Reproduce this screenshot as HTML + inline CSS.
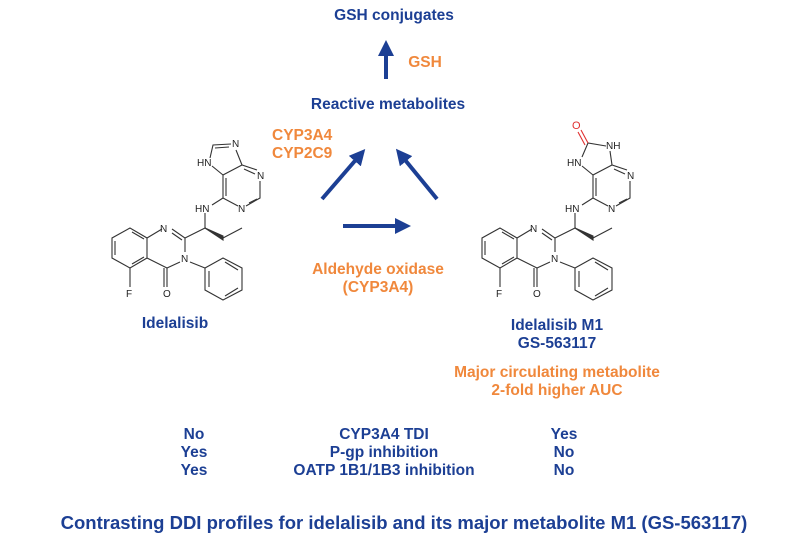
<!DOCTYPE html>
<html><head><meta charset="utf-8"><style>
html,body{margin:0;padding:0;background:#fff;}
svg{display:block;}
.b{fill:#1c3f94;font-family:"Liberation Sans",sans-serif;font-weight:bold;font-size:15.5px;}
.o{fill:#f0883c;font-family:"Liberation Sans",sans-serif;font-weight:bold;font-size:15.5px;}
</style></head><body>
<svg width="800" height="549" viewBox="0 0 800 549" xmlns="http://www.w3.org/2000/svg">
<defs>
<marker id="ah" markerWidth="4" markerHeight="4" refX="2" refY="2" orient="auto" markerUnits="strokeWidth">
<path d="M0,0 L4,2 L0,4 z" fill="#1c3f94"/></marker>
<g id="core" stroke="#333" stroke-width="1.1" fill="none">
<path d="M130,228 L112,238 L112,258 L130,268 L147,258 L147,238 Z"/>
<path d="M115,241 L115,255 M132,232 L144,239 M132,264 L144,257"/>
<path d="M147,238 L162,229 M172,229 L185,238 L185,252 M180,262 L167,268 L147,258"/>
<path d="M172,233 L182,240"/>
<path d="M167,268 L167,287 M164,268 L164,287"/>
<path d="M130,268 L130,287"/>
<path d="M190,262 L205,268"/>
<path d="M205,268 L223,258 L242,268 L242,290 L223,300 L205,290 Z"/>
<path d="M209,271 L209,287 M225,262 L238,270 M225,296 L238,288"/>
<path d="M185,238 L205,228 L205,213"/>
<path d="M205,228 L223,236 L223,240 Z" fill="#333"/>
<path d="M223,238 L242,228"/>
<path d="M212,205 L223,198"/>
<path d="M223,198 L238,206 M246,206 L260,198 L260,181 M257,170 L242,165 L223,175 L223,198"/>
<path d="M226,196 L226,178 M244,169 L255,174 M249,203 L257,199"/>
</g>
<g id="t1">
<text x="160" y="232" font-size="10" fill="#222" font-family="Liberation Sans,sans-serif">N</text>
<text x="181" y="262" font-size="10" fill="#222" font-family="Liberation Sans,sans-serif">N</text>
<text x="163" y="297" font-size="10" fill="#222" font-family="Liberation Sans,sans-serif">O</text>
<text x="126" y="297" font-size="10" fill="#222" font-family="Liberation Sans,sans-serif">F</text>
<text x="195" y="212" font-size="10" fill="#222" font-family="Liberation Sans,sans-serif">HN</text>
<text x="238" y="212" font-size="10" fill="#222" font-family="Liberation Sans,sans-serif">N</text>
<text x="257" y="179" font-size="10" fill="#222" font-family="Liberation Sans,sans-serif">N</text>
</g>
</defs>

<use href="#core"/>
<use href="#t1"/>
<g stroke="#333" stroke-width="1.1" fill="none">
<path d="M223,175 L212,166 M210,158 L213,145 L231,144 M242,165 L236,150 M215,148 L229,147"/>
</g>
<text x="197" y="166" font-size="10" fill="#222" font-family="Liberation Sans,sans-serif">HN</text>
<text x="232" y="147" font-size="10" fill="#222" font-family="Liberation Sans,sans-serif">N</text>

<g transform="translate(370,0)">
<use href="#core"/>
<use href="#t1"/>
<g stroke="#333" stroke-width="1.1" fill="none">
<path d="M223,175 L212,166 M212,157 L218,143 L236,146 M242,165 L240,151"/>
</g>
<path d="M218,143 L211,130 M215,145 L208,132" stroke="#e03030" stroke-width="1.1" fill="none"/>
<text x="197" y="166" font-size="10" fill="#222" font-family="Liberation Sans,sans-serif">HN</text>
<text x="236" y="149" font-size="10" fill="#222" font-family="Liberation Sans,sans-serif">NH</text>
<text x="202" y="129" font-size="11" fill="#e03030" font-family="Liberation Sans,sans-serif">O</text>
</g>

<g stroke="#1c3f94" stroke-width="4" fill="none">
<line x1="386" y1="79" x2="386" y2="48" marker-end="url(#ah)"/>
<line x1="322" y1="199" x2="360" y2="155" marker-end="url(#ah)"/>
<line x1="437" y1="199" x2="401" y2="155" marker-end="url(#ah)"/>
<line x1="343" y1="226" x2="403" y2="226" marker-end="url(#ah)"/>
</g>

<text class="b" x="394" y="20" text-anchor="middle">GSH conjugates</text>
<text class="o" x="425" y="67" text-anchor="middle">GSH</text>
<text class="b" x="388" y="109" text-anchor="middle">Reactive metabolites</text>
<text class="o" x="272" y="140">CYP3A4</text>
<text class="o" x="272" y="158">CYP2C9</text>
<text class="o" x="378" y="274" text-anchor="middle">Aldehyde oxidase</text>
<text class="o" x="378" y="292" text-anchor="middle">(CYP3A4)</text>
<text class="b" x="175" y="328" text-anchor="middle">Idelalisib</text>
<text class="b" x="557" y="330" text-anchor="middle">Idelalisib M1</text>
<text class="b" x="557" y="348" text-anchor="middle">GS-563117</text>
<text class="o" x="557" y="377" text-anchor="middle">Major circulating metabolite</text>
<text class="o" x="557" y="395" text-anchor="middle">2-fold higher AUC</text>

<text class="b" x="194" y="439" text-anchor="middle">No</text>
<text class="b" x="194" y="457" text-anchor="middle">Yes</text>
<text class="b" x="194" y="475" text-anchor="middle">Yes</text>
<text class="b" x="384" y="439" text-anchor="middle">CYP3A4 TDI</text>
<text class="b" x="384" y="457" text-anchor="middle">P-gp inhibition</text>
<text class="b" x="384" y="475" text-anchor="middle">OATP 1B1/1B3 inhibition</text>
<text class="b" x="564" y="439" text-anchor="middle">Yes</text>
<text class="b" x="564" y="457" text-anchor="middle">No</text>
<text class="b" x="564" y="475" text-anchor="middle">No</text>

<text class="b" x="404" y="529" text-anchor="middle" style="font-size:18.5px">Contrasting DDI profiles for idelalisib and its major metabolite M1 (GS-563117)</text>
</svg>
</body></html>
